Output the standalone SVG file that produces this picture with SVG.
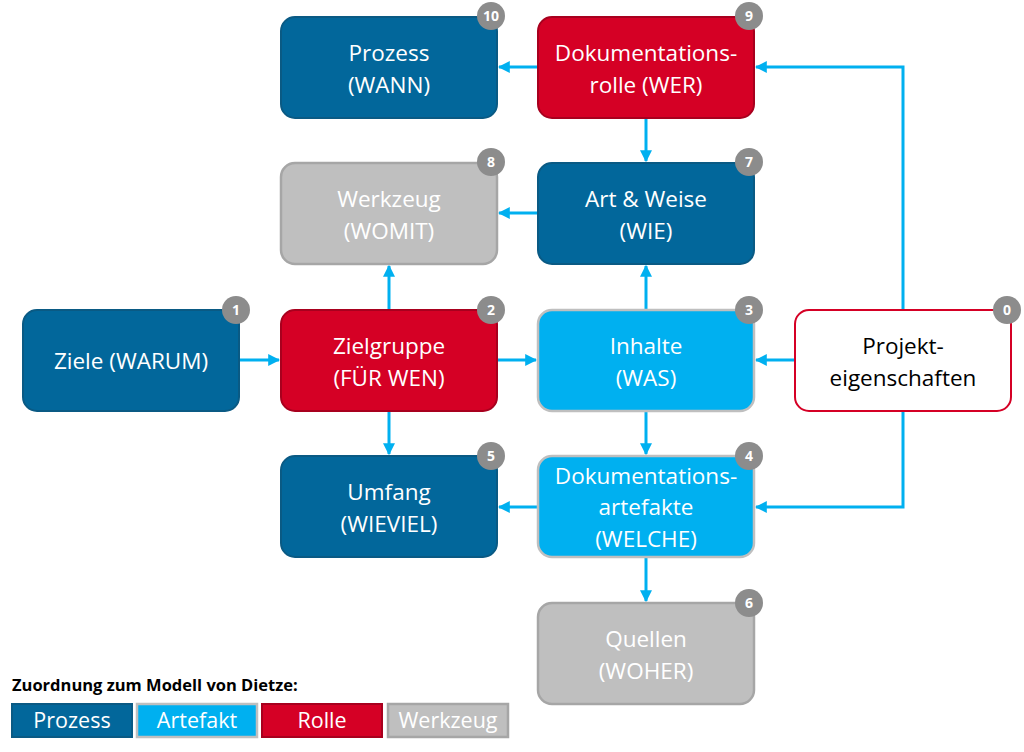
<svg xmlns="http://www.w3.org/2000/svg" width="1024" height="752" viewBox="0 0 1024 752">
<style>
text{font-family:"Open Sans","Noto Sans","Liberation Sans",sans-serif;}
.t{font-size:22.5px;fill:#fff;text-anchor:middle;}
.tb{fill:#000;}
.p{fill:#02679B;stroke:#0A5A84;stroke-width:2;}
.a{fill:#00B0F0;stroke:#BFBFBF;stroke-width:2.5;}
.r{fill:#D50025;stroke:#A8001E;stroke-width:2;}
.w{fill:#BFBFBF;stroke:#A6A6A6;stroke-width:2.5;}
.e{fill:#fff;stroke:#D50025;stroke-width:2;}
.bd circle{fill:#8C8C8C;}
.bd text{font-size:14px;font-weight:bold;fill:#fff;text-anchor:middle;}
.c{fill:none;stroke:#00B0F0;stroke-width:3;marker-end:url(#ah);}
.lg{font-size:21.5px;fill:#fff;text-anchor:middle;}
</style>
<defs>
<marker id="ah" viewBox="0 0 10 10" refX="9" refY="5" markerWidth="4" markerHeight="4" orient="auto" markerUnits="strokeWidth">
<path d="M0,0 L10,5 L0,10 z" fill="#00B0F0"/>
</marker>
</defs>
<rect width="1024" height="752" fill="#fff"/>
<g id="connectors">
<path class="c" d="M538,67 H499"/>
<path class="c" d="M646,118 V161"/>
<path class="c" d="M538,213 H499"/>
<path class="c" d="M646,310 V266"/>
<path class="c" d="M389,310 V266"/>
<path class="c" d="M239,360 H279"/>
<path class="c" d="M497,360 H536"/>
<path class="c" d="M795,360 H756"/>
<path class="c" d="M903,310 V67 H756"/>
<path class="c" d="M903,411 V507 H756"/>
<path class="c" d="M389,411 V454"/>
<path class="c" d="M646,411 V454"/>
<path class="c" d="M538,507 H499"/>
<path class="c" d="M646,557 V601"/>
</g>
<g id="n10">
<rect class="p" x="281" y="17" width="216" height="101" rx="14"/>
<text class="t" x="389" y="61">Prozess</text>
<text class="t" x="389" y="93">(WANN)</text>
<g class="bd"><circle cx="491" cy="16" r="14"/><text x="491" y="21">10</text></g>
</g>
<g id="n9">
<rect class="r" x="538" y="17" width="216" height="101" rx="14"/>
<text class="t" x="646" y="61">Dokumentations-</text>
<text class="t" x="646" y="93">rolle (WER)</text>
<g class="bd"><circle cx="749" cy="16" r="14"/><text x="749" y="21">9</text></g>
</g>
<g id="n8">
<rect class="w" x="281" y="163" width="216" height="101" rx="14"/>
<text class="t" x="389" y="207">Werkzeug</text>
<text class="t" x="389" y="239">(WOMIT)</text>
<g class="bd"><circle cx="491" cy="162" r="14"/><text x="491" y="167">8</text></g>
</g>
<g id="n7">
<rect class="p" x="538" y="163" width="216" height="101" rx="14"/>
<text class="t" x="646" y="207">Art &amp; Weise</text>
<text class="t" x="646" y="239">(WIE)</text>
<g class="bd"><circle cx="749" cy="162" r="14"/><text x="749" y="167">7</text></g>
</g>
<g id="n1">
<rect class="p" x="23" y="310" width="216" height="101" rx="14"/>
<text class="t" x="131" y="369">Ziele (WARUM)</text>
<g class="bd"><circle cx="236" cy="310" r="14"/><text x="236" y="315">1</text></g>
</g>
<g id="n2">
<rect class="r" x="281" y="310" width="216" height="101" rx="14"/>
<text class="t" x="389" y="354">Zielgruppe</text>
<text class="t" x="389" y="386">(FÜR WEN)</text>
<g class="bd"><circle cx="491" cy="310" r="14"/><text x="491" y="315">2</text></g>
</g>
<g id="n3">
<rect class="a" x="538" y="310" width="216" height="101" rx="14"/>
<text class="t" x="646" y="354">Inhalte</text>
<text class="t" x="646" y="386">(WAS)</text>
<g class="bd"><circle cx="749" cy="310" r="14"/><text x="749" y="315">3</text></g>
</g>
<g id="n0">
<rect class="e" x="795" y="310" width="216" height="101" rx="14"/>
<text class="t tb" x="903" y="354">Projekt-</text>
<text class="t tb" x="903" y="386">eigenschaften</text>
<g class="bd"><circle cx="1007" cy="310" r="14"/><text x="1007" y="315">0</text></g>
</g>
<g id="n5">
<rect class="p" x="281" y="456" width="216" height="101" rx="14"/>
<text class="t" x="389" y="500">Umfang</text>
<text class="t" x="389" y="532">(WIEVIEL)</text>
<g class="bd"><circle cx="491" cy="456" r="14"/><text x="491" y="461">5</text></g>
</g>
<g id="n4">
<rect class="a" x="538" y="456" width="216" height="101" rx="14"/>
<text class="t" x="646" y="484">Dokumentations-</text>
<text class="t" x="646" y="515">artefakte</text>
<text class="t" x="646" y="547">(WELCHE)</text>
<g class="bd"><circle cx="749" cy="456" r="14"/><text x="749" y="461">4</text></g>
</g>
<g id="n6">
<rect class="w" x="538" y="603" width="216" height="101" rx="14"/>
<text class="t" x="646" y="647">Quellen</text>
<text class="t" x="646" y="679">(WOHER)</text>
<g class="bd"><circle cx="749" cy="603" r="14"/><text x="749" y="608">6</text></g>
</g>
<g id="legend">
<text x="12" y="691" style="font-size:16.5px;font-weight:bold;fill:#000;">Zuordnung zum Modell von Dietze:</text>
<rect class="p" x="12" y="704" width="120" height="33"/>
<text class="lg" x="72" y="728">Prozess</text>
<rect class="a" x="137" y="704" width="120" height="33"/>
<text class="lg" x="197" y="728">Artefakt</text>
<rect class="r" x="262" y="704" width="120" height="33"/>
<text class="lg" x="322" y="728">Rolle</text>
<rect class="w" x="388" y="704" width="120" height="33"/>
<text class="lg" x="448" y="728">Werkzeug</text>
</g>
</svg>
